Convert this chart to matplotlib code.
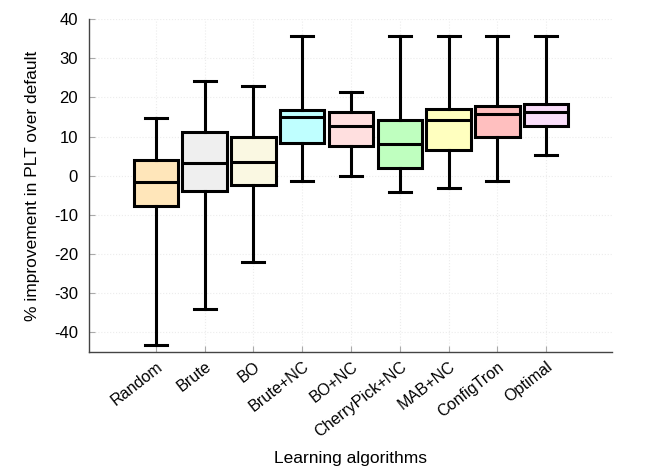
import numpy as np
import matplotlib.pyplot as plt

plt.rcParams['font.family'] = ['Liberation Sans', 'DejaVu Sans']
plt.rcParams['axes.unicode_minus'] = False

algos = ["Random", "Brute", "BO", "Brute+NC", "BO+NC", "CherryPick+NC",
         "MAB+NC", "ConfigTron", "Optimal"]
whislo = [-43.2, -34.1, -22.1, -1.3, 0.0, -4.2, -3.2, -1.3, 5.2]
q1 = [-7.8, -4.0, -2.3, 8.3, 7.5, 2.0, 6.6, 9.8, 12.7]
med = [-1.5, 3.2, 3.6, 14.9, 12.7, 8.1, 14.1, 15.8, 16.2]
q3 = [4.0, 11.1, 9.9, 16.8, 16.2, 14.1, 17.0, 17.8, 18.2]
whishi = [14.8, 24.1, 23.0, 35.7, 21.4, 35.7, 35.7, 35.7, 35.7]
colors = ["#FFE6BA", "#EFEFEF", "#FAF8E2", "#BFFFFF", "#FFDFDF",
          "#BFFFBF", "#FFFFBF", "#FFBFBF", "#F9DDF9"]

stats = []
for i in range(len(algos)):
    stats.append(dict(label=algos[i], whislo=whislo[i], q1=q1[i], med=med[i],
                      q3=q3[i], whishi=whishi[i], fliers=[]))

fig = plt.figure(figsize=(6.48, 4.71), dpi=100)
ax = fig.add_axes([89/648, 1-352/471, (612-89)/648, (352-19)/471])

pos = np.arange(1, len(algos)+1)
bp = ax.bxp(stats, positions=pos, widths=0.91, patch_artist=True,
            showfliers=False,
            boxprops=dict(linewidth=2.2, edgecolor="black"),
            medianprops=dict(linewidth=2.2, color="black"),
            whiskerprops=dict(linewidth=2.2, color="black"),
            capprops=dict(linewidth=2.2, color="black"),
            capwidths=0.45)
for patch, c in zip(bp["boxes"], colors):
    patch.set_facecolor(c)

ax.set_xlim(-0.37, 10.35)
ax.set_ylim(-45, 40)
ax.set_yticks(range(-40, 41, 10))
ax.set_xticks(pos)
ax.set_xticklabels(algos, rotation=38, ha="right", rotation_mode="anchor",
                   fontsize=11.6)
ax.tick_params(axis="y", labelsize=12, pad=8)
ax.tick_params(axis="x", pad=5)
ax.tick_params(direction="in", length=4, color="#aaaaaa", width=0.8)
ax.grid(True, linestyle=":", color="#ececec", linewidth=0.8)
ax.set_axisbelow(True)
for s in ["top", "right"]:
    ax.spines[s].set_visible(False)
for s in ["left", "bottom"]:
    ax.spines[s].set_color("#444444")
    ax.spines[s].set_linewidth(1.0)

ax.set_ylabel("% improvement in PLT over default", fontsize=12.5, labelpad=10)
ax.set_xlabel("Learning algorithms", fontsize=12.5, labelpad=8)

fig.savefig("out.png", dpi=100)
